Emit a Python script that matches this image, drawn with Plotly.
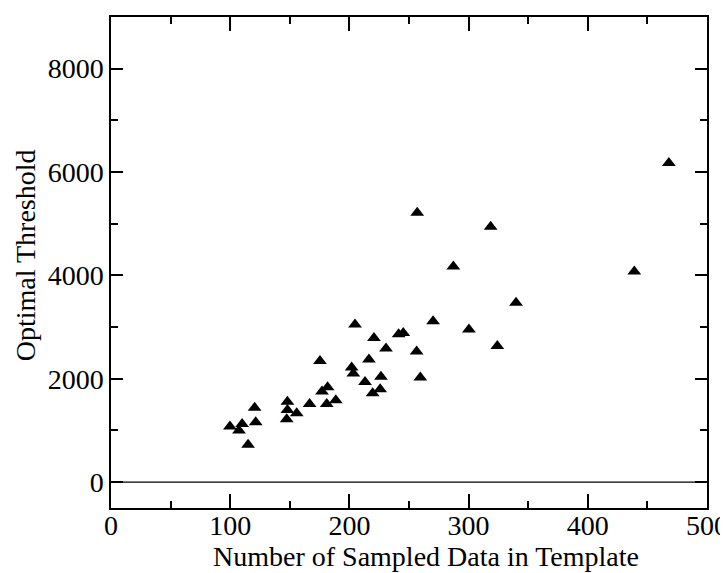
import plotly.graph_objects as go

# Number of sampled data in template
samples = [99.8, 107.4, 110, 115, 120.5, 121.4, 148, 148, 147.4, 155.8,
           166.6, 175.3, 177, 181.7, 181, 188.6, 201.9, 203.3, 204.7, 213.1,
           216.4, 219.5, 220.6, 225.8, 226.5, 230.7, 241.3, 245.2, 256.4, 259.5,
           256.9, 270.2, 287.2, 300.3, 318.5, 324.1, 339.8, 439, 468]
# Optimal threshold
thresholds = [1077, 1000, 1123, 725, 1442, 1161, 1558, 1398, 1219, 1335,
              1513, 2346, 1756, 1835, 1510, 1584, 2219, 2104, 3052, 1940,
              2373, 1719, 2788, 1796, 2038, 2585, 2860, 2885, 2528, 2027,
              5212, 3112, 4173, 2956, 4942, 2635, 3469, 4077, 6173]

x_ticks = [0, 100, 200, 300, 400, 500]
y_ticks = [0, 2000, 4000, 6000, 8000]

FONT = "Liberation Serif"

fig = go.Figure()
fig.add_trace(go.Scatter(
    x=samples, y=thresholds, mode="markers",
    marker=dict(symbol="triangle-up", size=12, color="black"),
    showlegend=False, hoverinfo="x+y",
))

axis_common = dict(
    showline=True, linecolor="black", linewidth=1.5, mirror="ticks",
    ticks="inside", tickcolor="black", tickwidth=1.5,
    showgrid=False, zeroline=False,
    tickfont=dict(family=FONT, size=28, color="black"),
)

fig.update_xaxes(
    range=[0, 500], tickvals=x_ticks, ticklen=14, ticklabelstandoff=-8,
    minor=dict(dtick=50, ticks="inside", ticklen=7, tickcolor="black", tickwidth=1.5, showgrid=False),
    **axis_common,
)
fig.update_yaxes(
    range=[-500, 9000], tickvals=y_ticks, ticklen=12,
    minor=dict(dtick=1000, tick0=0, ticks="inside", ticklen=7, tickcolor="black", tickwidth=1.5, showgrid=False),
    **axis_common,
)

# Zero reference line
fig.add_hline(y=0, line=dict(color="black", width=1.2))

fig.add_annotation(
    text="Number of Sampled Data in Template", xref="paper", yref="paper",
    x=0.529, y=-0.099, xanchor="center", yanchor="middle", showarrow=False,
    font=dict(family=FONT, size=28, color="black"),
)
fig.add_annotation(
    text="Optimal Threshold", xref="paper", yref="paper",
    x=-0.144, y=0.515, xanchor="center", yanchor="middle", textangle=-90,
    showarrow=False, font=dict(family=FONT, size=28, color="black"),
)

fig.update_layout(
    width=728, height=573,
    margin=dict(l=103, r=29, t=7, b=73),
    paper_bgcolor="white", plot_bgcolor="white",
)

fig.write_html("out.html")
